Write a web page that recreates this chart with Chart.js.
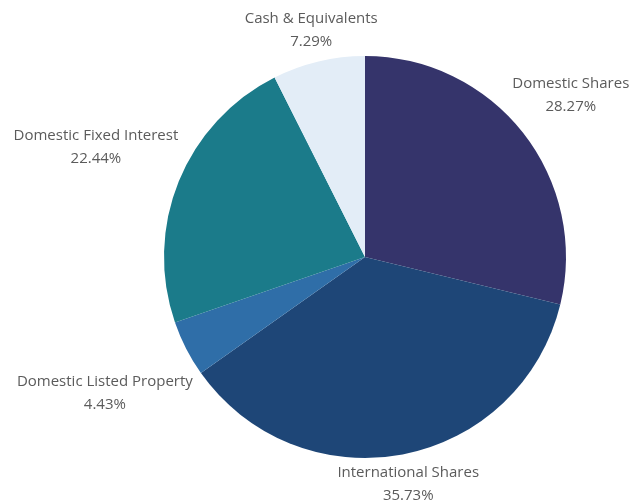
<!DOCTYPE html>
<html>
<head>
<meta charset="utf-8">
<script src="https://cdn.jsdelivr.net/npm/chart.js@4.4.0/dist/chart.umd.min.js"></script>
<style>
  html, body { margin: 0; padding: 0; background: #ffffff; }
  #wrap { width: 634px; height: 502px; position: relative; }
</style>
</head>
<body>
<div id="wrap"><canvas id="c" width="634" height="502"></canvas></div>
<script>
const categories = ["Domestic Shares", "International Shares", "Domestic Listed Property", "Domestic Fixed Interest", "Cash & Equivalents"];
const values = [28.27, 35.73, 4.43, 22.44, 7.29];
const valueLabels = ["28.27%", "35.73%", "4.43%", "22.44%", "7.29%"];
const colors = ["#35346b", "#1e4677", "#2f6ea8", "#1b7b8a", "#e3edf7"];

const labelPlugin = {
  id: 'outerLabels',
  afterDatasetsDraw(chart) {
    const ctx = chart.ctx;
    const meta = chart.getDatasetMeta(0);
    ctx.save();
    ctx.font = '15px "Open Sans", sans-serif';
    ctx.fillStyle = '#5b5b5b';
    ctx.textAlign = 'center';
    ctx.textBaseline = 'middle';
    meta.data.forEach((arc, i) => {
      const p = arc.getProps(['x', 'y', 'startAngle', 'endAngle', 'outerRadius'], true);
      const mid = (p.startAngle + p.endAngle) / 2;
      const cx = Math.cos(mid), sy = Math.sin(mid);
      const l1 = categories[i], l2 = valueLabels[i];
      const halfW = Math.max(ctx.measureText(l1).width, ctx.measureText(l2).width) / 2;
      const r = p.outerRadius + 17 + Math.abs(cx) * halfW * 0.95;
      const x = p.x + cx * r;
      const y = p.y + sy * r + (sy > 0 ? 3 * Math.abs(cx) : 0);
      ctx.fillText(l1, x, y - 11.5);
      ctx.fillText(l2, x, y + 11.5);
    });
    ctx.restore();
  }
};

new Chart(document.getElementById('c'), {
  type: 'pie',
  data: {
    labels: categories,
    datasets: [{
      data: values,
      backgroundColor: colors,
      borderWidth: 0
    }]
  },
  options: {
    responsive: false,
    animation: false,
    layout: { padding: { left: 164, right: 68, top: 56, bottom: 44 } },
    plugins: {
      legend: { display: false },
      tooltip: { enabled: false }
    }
  },
  plugins: [labelPlugin]
});
</script>
</body>
</html>
